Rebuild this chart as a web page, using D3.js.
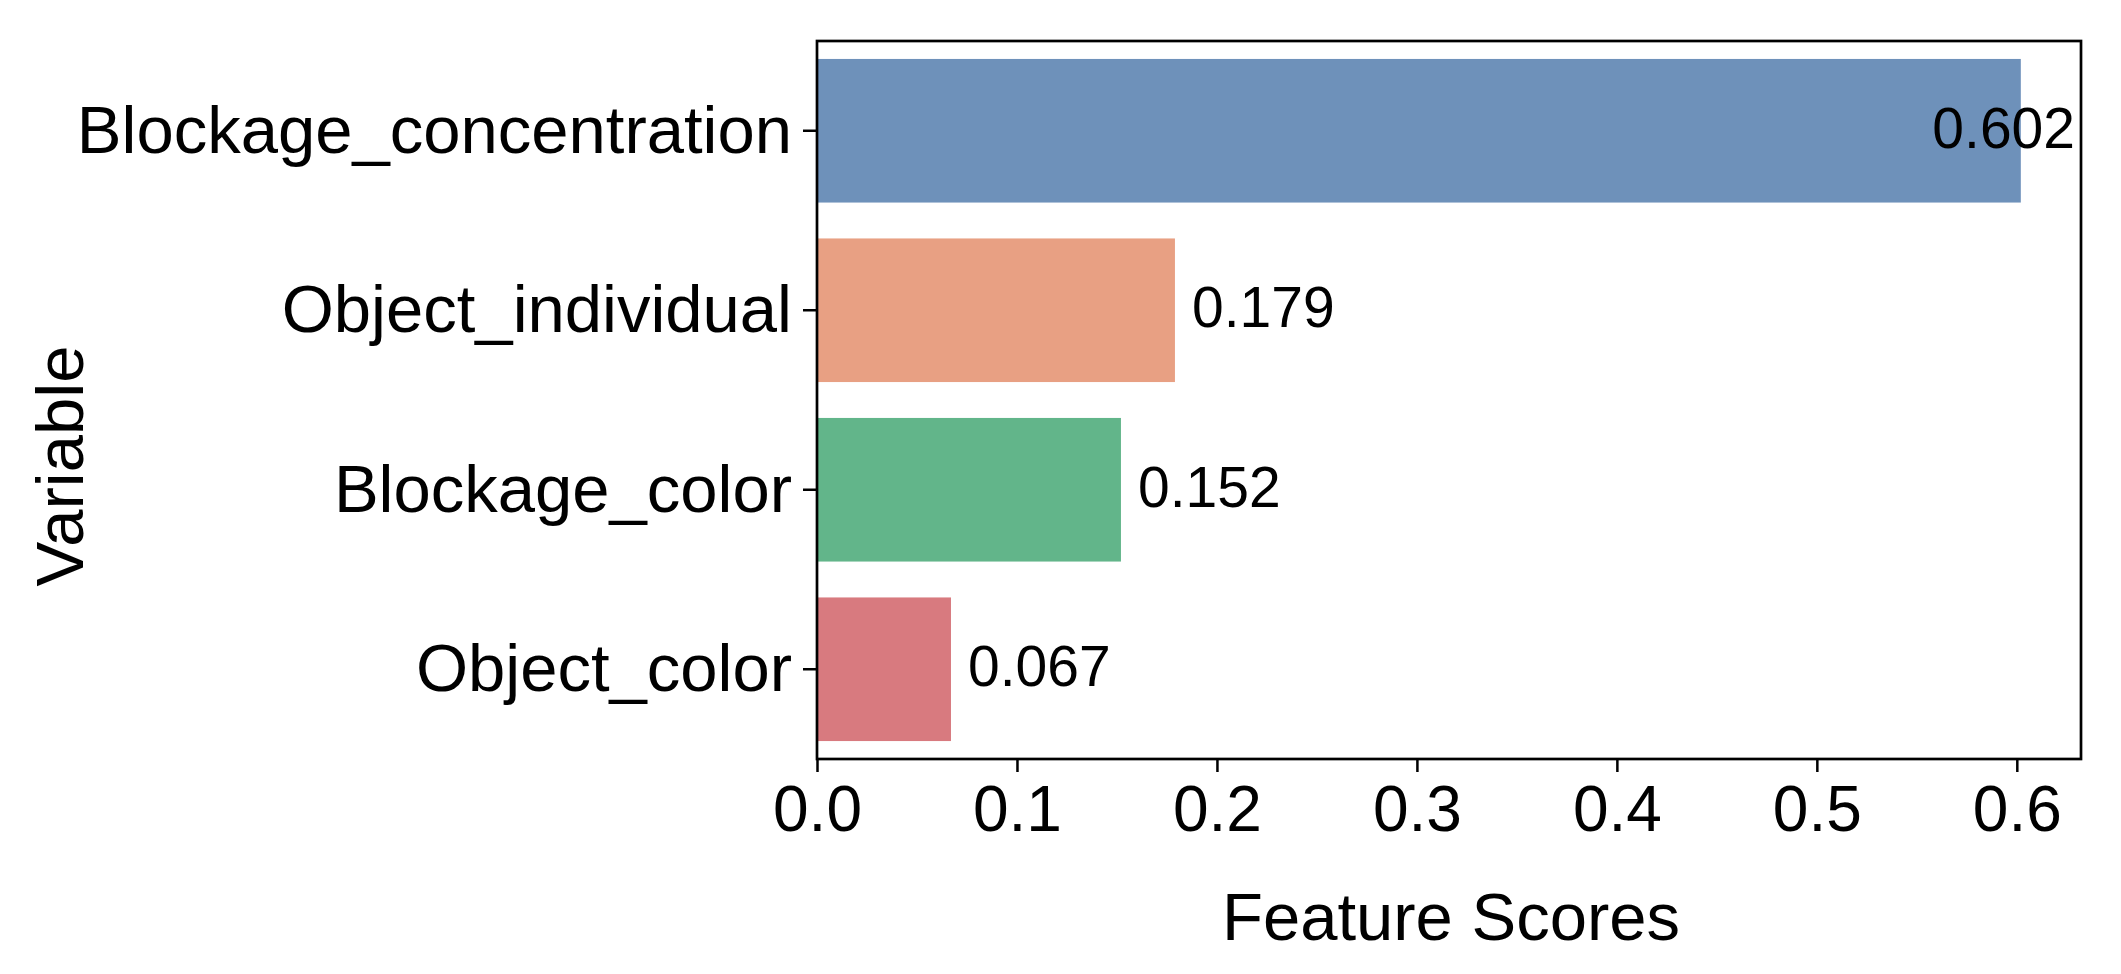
<!DOCTYPE html>
<html>
<head>
<meta charset="utf-8">
<script src="https://cdn.jsdelivr.net/npm/d3@7"></script>
<style>
  html, body { margin: 0; padding: 0; background: #ffffff; }
  svg { display: block; font-family: "Liberation Sans", Arial, sans-serif; }
</style>
</head>
<body>
<svg id="chart" width="2121" height="974"></svg>
<script>
// ---- data ----
const categories = ["Blockage_concentration", "Object_individual", "Blockage_color", "Object_color"];
const scores = [0.602, 0.179, 0.152, 0.067];
const barColors = ["#6e91ba", "#e8a083", "#62b58a", "#d87a7f"];
const xTicks = [0.0, 0.1, 0.2, 0.3, 0.4, 0.5, 0.6];
const xLabel = "Feature Scores";
const yLabel = "Variable";

// ---- layout ----
const W = 2121, H = 974;
const plot = { left: 817, right: 2081, top: 41, bottom: 759 };
const svg = d3.select("#chart");

const x = d3.scaleLinear().domain([0, d3.max(scores) * 1.05]).range([plot.left, plot.right]);
const y = d3.scaleBand().domain(categories).range([plot.top, plot.bottom]).paddingInner(0.2).paddingOuter(0.1);

const data = categories.map((c, i) => ({ cat: c, v: scores[i], color: barColors[i] }));

// bars
svg.append("g").selectAll("rect").data(data).join("rect")
  .attr("x", x(0))
  .attr("y", d => y(d.cat))
  .attr("width", d => x(d.v) - x(0))
  .attr("height", y.bandwidth())
  .attr("fill", d => d.color);

// value labels
const valFs = 57;
const vl = svg.append("g").selectAll("text").data(data).join("text")
  .attr("font-size", valFs)
  .attr("fill", "#000")
  .attr("y", d => y(d.cat) + y.bandwidth() / 2 + valFs * 0.3)
  .text(d => d3.format(".3f")(d.v));
vl.each(function(d) {
  const t = d3.select(this);
  const w = this.getComputedTextLength();
  const xs = x(d.v) + 17;
  if (xs + w > plot.right - 4) {
    t.attr("text-anchor", "end").attr("x", plot.right - 6);
  } else {
    t.attr("text-anchor", "start").attr("x", xs);
  }
});

// axes
const xAxis = d3.axisBottom(x).tickValues(xTicks).tickFormat(d3.format(".1f")).tickSize(13).tickPadding(14);
const gx = svg.append("g").attr("transform", `translate(0,${plot.bottom})`).call(xAxis);
gx.select(".domain").remove();
gx.selectAll(".tick line").attr("stroke", "#000").attr("stroke-width", 2.5);
gx.selectAll(".tick text").attr("font-size", 64).attr("fill", "#000")
  .attr("font-family", "Liberation Sans, Arial, sans-serif").attr("dy", "0.71em");

const yAxis = d3.axisLeft(y).tickSize(14).tickPadding(11);
const gy = svg.append("g").attr("transform", `translate(${plot.left},0)`).call(yAxis);
gy.select(".domain").remove();
gy.selectAll(".tick line").attr("stroke", "#000").attr("stroke-width", 2.5);
gy.selectAll(".tick text").attr("font-size", 67).attr("fill", "#000")
  .attr("font-family", "Liberation Sans, Arial, sans-serif").attr("dy", "0.33em");

// frame
svg.append("rect")
  .attr("x", plot.left).attr("y", plot.top)
  .attr("width", plot.right - plot.left).attr("height", plot.bottom - plot.top)
  .attr("fill", "none").attr("stroke", "#000").attr("stroke-width", 2.7);

// axis titles
svg.append("text")
  .attr("x", (plot.left + plot.right) / 2 + 2)
  .attr("y", 940)
  .attr("text-anchor", "middle")
  .attr("font-size", 67)
  .attr("fill", "#000")
  .text(xLabel);

svg.append("text")
  .attr("transform", `translate(83,466) rotate(-90)`)
  .attr("text-anchor", "middle")
  .attr("font-size", 67)
  .attr("fill", "#000")
  .text(yLabel);
</script>
</body>
</html>
